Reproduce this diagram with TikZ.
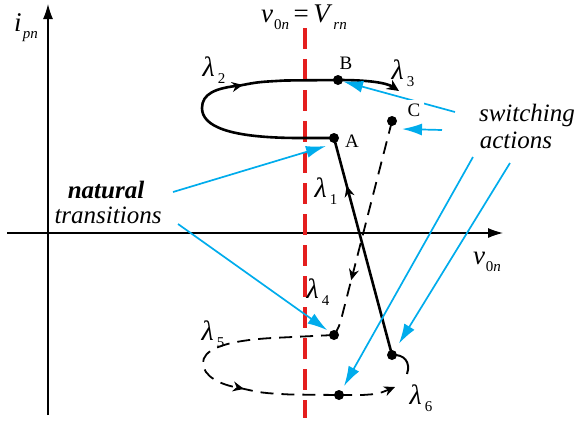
\documentclass[tikz,border=0pt]{standalone}
\usepackage{fontspec}
\setmainfont{Liberation Serif}
\usetikzlibrary{arrows.meta,positioning,decorations.markings}

\definecolor{cue}{RGB}{0,172,236}
\definecolor{vline}{RGB}{228,30,30}

% subscript in the figure's manner
\newcommand{\subs}[1]{\kern1pt\raisebox{-0.55ex}{\fontsize{15}{15}\selectfont #1}}
\newcommand{\lam}[1]{\textit{λ}\kern2pt\subs{#1}}

\begin{document}
\begin{tikzpicture}[x=1pt,y=-1pt,
  every node/.style={inner sep=0pt},
  axis/.style={line width=1.2pt, -{Latex[length=15pt,width=10pt]}},
  traj/.style={line width=2.6pt},
  swtraj/.style={line width=1.8pt, dash pattern=on 13pt off 8pt},
  midarrow/.style={postaction={decorate}, decoration={markings,
      mark=at position #1 with {\arrow{Stealth[length=11pt,width=10pt]}}}},
  knot/.style={circle, fill, minimum size=10pt},
  hint/.style={draw=cue, line width=1.7pt, -{Latex[length=20pt,width=12pt]}},
  letter/.style={font=\fontsize{19}{19}\selectfont},
  lbl/.style={font=\fontsize{27}{27}\selectfont},
  gr/.style={font=\fontsize{28}{28}\selectfont},
  note/.style={font=\fontsize{25}{25}\selectfont\itshape}
]
  \useasboundingbox (0,0) rectangle (579,421);

  % axes
  \coordinate (ybot) at (48,415);
  \coordinate (ytop) at (48,4);
  \coordinate (xleft) at (7,233);
  \coordinate (xright) at (503,233);
  \draw[axis] (ybot) -- (ytop);
  \draw[axis] (xleft) -- (xright);
  \node[lbl] (ipn) at (26,28) {\textit{i}\subs{\textit{pn}}};
  \node[lbl] (vax) at (487,262) {\textit{v}\subs{0\textit{n}}};

  % v0n = Vrn
  \coordinate (rtop) at (305,28);
  \coordinate (rbot) at (305,418);
  \draw[vline, line width=3.2pt, dash pattern=on 21pt off 10pt] (rtop) -- (rbot);
  \node[lbl] (vtop) at (304,17) {\textit{v}\subs{0\textit{n}}\,=\,\textit{V}\subs{\textit{rn}}};

  % states
  \node[knot] (A) at (334,138) {};
  \node[knot] (B) at (338,80) {};
  \node[knot] (C) at (392,121) {};
  \node[knot] (D) at (334,335) {};
  \node[knot] (E) at (392,355) {};
  \node[knot] (F) at (339,395) {};

  % natural (solid) trajectories
  \draw[traj] (A.center) -- (300,138) .. controls (228,138) and (202,126) .. (202,108)
    .. controls (202,94) and (215,88) .. (240,85.5);
  \draw[traj, midarrow=0.03] (240,85.5) .. controls (258,82) .. (285,80.5) -- (B.center);
  \draw[traj, -{Stealth[length=12pt,width=11pt]}] (B.center) .. controls (370,80) and (387,83) .. (399,91);
  \draw[traj, midarrow=0.78] (E.center) -- (A.center);

  % switched (dashed) trajectories
  \draw[swtraj, midarrow=0.74] (C.center) -- (342,316) .. controls (339,327) .. (D.center);
  \draw[swtraj] (D.center) -- (272,338) .. controls (220,341) and (203,351) .. (203,363)
    .. controls (203,376) and (220,385) .. (240,388);
  \draw[swtraj, midarrow=0.04] (240,388) .. controls (262,393) .. (290,394.5) -- (F.center);
  \draw[swtraj, -{Stealth[length=11pt,width=10pt]}] (F.center) -- (362,395) .. controls (378,394) .. (395,387);
  \draw[line width=2pt] (E.center) .. controls (404,354) and (411,362) .. (407,374);

  % lambdas
  \node[gr] (l1) at (326,191) {\lam{1}};
  \node[gr] (l2) at (214,70) {\lam{2}};
  \node[gr] (l3) at (403,73) {\lam{3}};
  \node[gr] (l4) at (318,292) {\lam{4}};
  \node[gr] (l5) at (213,334) {\lam{5}};
  \node[gr] (l6) at (421,398) {\lam{6}};

  % notes
  \node[note, font=\fontsize{25}{25}\selectfont\bfseries\itshape] (nat) at (106,190) {natural};
  \node[note] (trans) at (108,215) {transitions};
  \node[note] (swi) at (527,115) {switching};
  \node[note] (act) at (516,140) {actions};

  \coordinate (n1) at (173,192);
  \coordinate (n2) at (178,224);
  \coordinate (s1) at (455,112);
  \coordinate (s2) at (442,130);
  \coordinate (s3) at (473,157);
  \coordinate (s4) at (510,163);

  \draw[hint] (n1) -- ([xshift=-8pt,yshift=-8pt]A.center);
  \draw[hint, shorten >=3pt] (n2) -- (D);
  \draw[hint] (s1) -- (B);
  \draw[hint] (s2) -- ([xshift=10pt,yshift=-8pt]C.center);
  \draw[hint, shorten >=5pt] (s3) -- (F);
  \draw[hint, shorten >=8pt] (s4) -- (E);

  \node[letter] (Bl) at (346,63) {B};
  \node[letter] (Al) at (352,141) {A};
  \node[letter, fill=white, inner sep=4pt] (Cl) at (414,110) {C};
\end{tikzpicture}
\end{document}
